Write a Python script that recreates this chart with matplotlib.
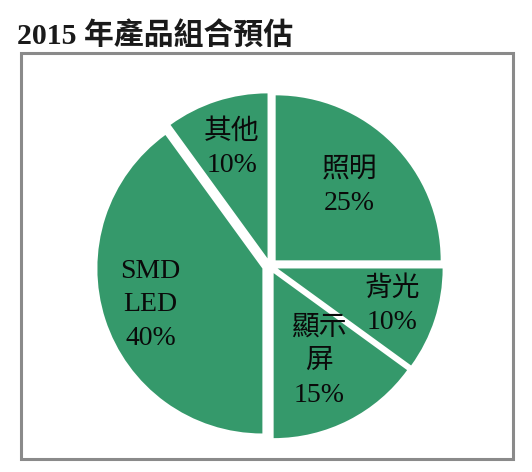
import numpy as np
import matplotlib
matplotlib.use('Agg')
import matplotlib.pyplot as plt
from matplotlib.patches import Rectangle

# data
categories = ['照明', '背光', '顯示\n屏', 'SMD\nLED', '其他']
shares = [25, 10, 15, 40, 10]
label_radius = [0.68, 0.78, 0.65, 0.76, 0.75]

green = '#35996B'
fonts = ['Liberation Serif', 'Noto Sans CJK TC', 'DejaVu Sans']

fig = plt.figure(figsize=(5.32, 4.72), dpi=100)
ax = fig.add_axes([0, 0, 1, 1])

cx, cy, r = 270, 206, 165
wedges, _ = ax.pie(shares, colors=[green] * len(shares), startangle=90, counterclock=False,
                   center=(cx, cy), radius=r, explode=[8] * len(shares),
                   wedgeprops=dict(edgecolor='none'))

# pie() resets the limits, so set them afterwards
ax.set_xlim(0, 532)
ax.set_ylim(0, 472)
ax.set_aspect('equal')
ax.axis('off')

# frame around the pie
ax.add_patch(Rectangle((21, 13), 492, 406, fill=False, edgecolor='#8a8a8a', linewidth=2.2))

# labels inside each slice
for w, cat, val, k in zip(wedges, categories, shares, label_radius):
    mid = np.deg2rad((w.theta1 + w.theta2) / 2)
    x = cx + k * r * np.cos(mid)
    y = cy + k * r * np.sin(mid)
    ax.text(x, y, f'{cat}\n{val}%', ha='center', va='center', fontsize=20,
            family=fonts, linespacing=1.45, color='#0a0a0a')

ax.text(17, 437, '2015 年產品組合預估', ha='left', va='center', fontsize=21.5,
        fontweight='bold', family=fonts, color='#1a1a1a')

fig.savefig('out.png', dpi=100)
